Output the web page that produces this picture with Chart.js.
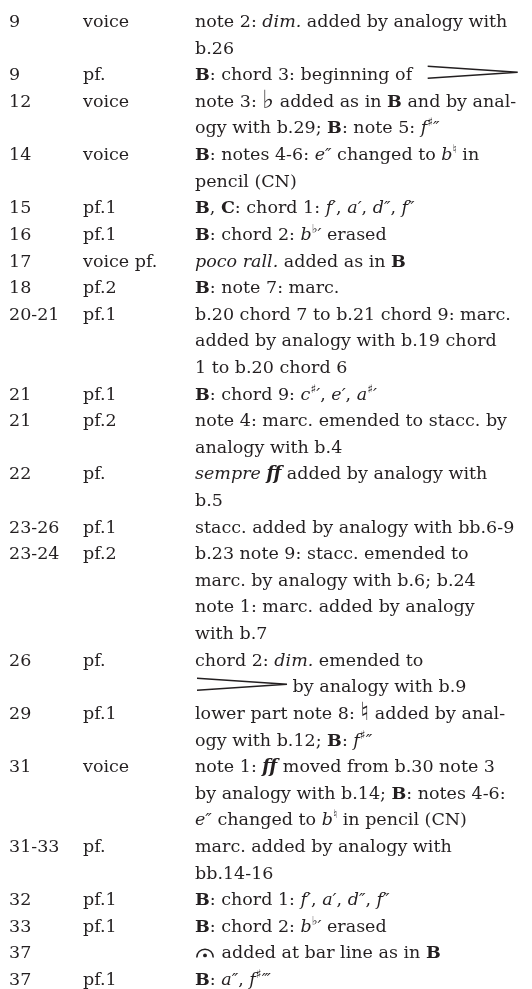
<!DOCTYPE html>
<html>
<head>
<meta charset="utf-8">
<script src="https://cdn.jsdelivr.net/npm/chart.js@4/dist/chart.umd.min.js"></script>
<style>
  html, body { margin: 0; padding: 0; background: #fff; }
  #wrap { width: 532px; height: 989px; position: relative; }
</style>
</head>
<body>
<div id="wrap"><canvas id="myChart"></canvas></div>
<script>
// bar numbers, parts and comment lines, one entry per table row
const bars = ["9", "9", "12", "14", "15", "16", "17", "18", "20-21", "21", "21", "22",
  "23-26", "23-24", "26", "29", "31", "31-33", "32", "33", "37", "37"];
const parts = ["voice", "pf.", "voice", "voice", "pf.1", "pf.1", "voice pf.", "pf.2", "pf.1",
  "pf.1", "pf.2", "pf.", "pf.1", "pf.2", "pf.", "pf.1", "voice", "pf.", "pf.1", "pf.1", "", "pf.1"];
const notes = [
  ["note 2: <i>dim.</i> added by analogy with", "b.26"],
  ["<b>B</b>: chord 3: beginning of [dim]"],
  ["note 3: <n>♭</n> added as in <b>B</b> and by anal-", "ogy with b.29; <b>B</b>: note 5: <i>f</i><s>♯</s><i>″</i>"],
  ["<b>B</b>: notes 4-6: <i>e″</i> changed to <i>b</i><s>♮</s> in", "pencil (CN)"],
  ["<b>B</b>, <b>C</b>: chord 1: <i>f′</i>, <i>a′</i>, <i>d″</i>, <i>f″</i>"],
  ["<b>B</b>: chord 2: <i>b</i><s>♭</s><i>′</i> erased"],
  ["<i>poco rall.</i> added as in <b>B</b>"],
  ["<b>B</b>: note 7: marc."],
  ["b.20 chord 7 to b.21 chord 9: marc.", "added by analogy with b.19 chord", "1 to b.20 chord 6"],
  ["<b>B</b>: chord 9: <i>c</i><s>♯</s><i>′</i>, <i>e′</i>, <i>a</i><s>♯</s><i>′</i>"],
  ["note 4: marc. emended to stacc. by", "analogy with b.4"],
  ["<i>sempre</i> <bi>ff</bi> added by analogy with", "b.5"],
  ["stacc. added by analogy with bb.6-9"],
  ["b.23 note 9: stacc. emended to", "marc. by analogy with b.6; b.24", "note 1: marc. added by analogy", "with b.7"],
  ["chord 2: <i>dim.</i> emended to", "[dim] by analogy with b.9"],
  ["lower part note 8: <n>♮</n> added by anal-", "ogy with b.12; <b>B</b>: <i>f</i><s>♯</s><i>″</i>"],
  ["note 1: <bi>ff</bi> moved from b.30 note 3", "by analogy with b.14; <b>B</b>: notes 4-6:", "<i>e″</i> changed to <i>b</i><s>♮</s> in pencil (CN)"],
  ["marc. added by analogy with", "bb.14-16"],
  ["<b>B</b>: chord 1: <i>f′</i>, <i>a′</i>, <i>d″</i>, <i>f″</i>"],
  ["<b>B</b>: chord 2: <i>b</i><s>♭</s><i>′</i> erased"],
  ["[fermata] added at bar line as in <b>B</b>"],
  ["<b>B</b>: <i>a″</i>, <i>f</i><s>♯</s><i>‴</i>"]
];

// layout
const columnX = [9, 83, 195];
const ink = "#231f20";
const face = '"DejaVu Serif"';
const fonts = {
  t: "17.5px " + face,
  i: "italic 17.5px " + face,
  b: "bold 17.5px " + face,
  bi: "italic bold 18px " + face,
  s: '12px "DejaVu Sans"',
  n: '25px "DejaVu Sans"'
};

// one point per text line, y = line index
const cells = [];
let lineNo = 0;
bars.forEach((bar, r) => {
  notes[r].forEach((txt, k) => {
    cells.push({ x: columnX[2], y: lineNo, bar: k === 0 ? bar : "", part: k === 0 ? parts[r] : "", txt });
    lineNo++;
  });
});

function drawRich(ctx, str, x, y) {
  const re = /<(bi|i|b|s|n)>(.*?)<\/\1>|\[(dim|fermata)\]|([^<\[]+)/g;
  let m;
  while ((m = re.exec(str)) !== null) {
    if (m[3] === "dim") {
      const w = 92;
      const x0 = x > 300 ? x + 8 : x;
      ctx.save();
      ctx.lineWidth = 1.4;
      ctx.beginPath();
      ctx.moveTo(x0 + 2, y - 14);
      ctx.lineTo(x0 + w, y - 8);
      ctx.lineTo(x0 + 2, y - 2);
      ctx.stroke();
      ctx.restore();
      x = x0 + w;
    } else if (m[3] === "fermata") {
      ctx.save();
      ctx.beginPath();
      ctx.arc(x + 10, y - 1, 9, Math.PI, 0);
      ctx.arc(x + 10, y - 1, 7.5, 0, Math.PI, true);
      ctx.closePath();
      ctx.fill();
      ctx.beginPath();
      ctx.arc(x + 10, y - 3, 1.9, 0, Math.PI * 2);
      ctx.fill();
      ctx.restore();
      x += 21;
    } else {
      const style = m[1] || "t";
      const text = m[1] ? m[2] : m[4];
      ctx.font = fonts[style];
      const dy = style === "s" ? -7 : style === "n" ? 1 : 0;
      ctx.fillText(text, x, y + dy);
      x += ctx.measureText(text).width;
    }
  }
}

const tablePlugin = {
  id: "tableText",
  afterDatasetsDraw(chart) {
    const { ctx, scales } = chart;
    ctx.save();
    ctx.fillStyle = ink;
    ctx.strokeStyle = ink;
    ctx.textBaseline = "alphabetic";
    chart.data.datasets[0].data.forEach(c => {
      const y = scales.y.getPixelForValue(c.y);
      ctx.font = fonts.t;
      ctx.fillText(c.bar, scales.x.getPixelForValue(columnX[0]), y);
      ctx.fillText(c.part, scales.x.getPixelForValue(columnX[1]), y);
      drawRich(ctx, c.txt, scales.x.getPixelForValue(c.x), y);
    });
    ctx.restore();
  }
};

new Chart(document.getElementById("myChart"), {
  type: "scatter",
  data: { datasets: [{ data: cells, pointRadius: 0, pointHoverRadius: 0 }] },
  options: {
    responsive: true,
    maintainAspectRatio: false,
    animation: false,
    events: [],
    layout: { padding: 0 },
    plugins: { legend: { display: false }, tooltip: { enabled: false } },
    scales: {
      x: { type: "linear", display: false, min: 0, max: 532 },
      y: { type: "linear", display: false, reverse: true, min: -1.015, max: 36.15 }
    }
  },
  plugins: [tablePlugin]
});
</script>
</body>
</html>
